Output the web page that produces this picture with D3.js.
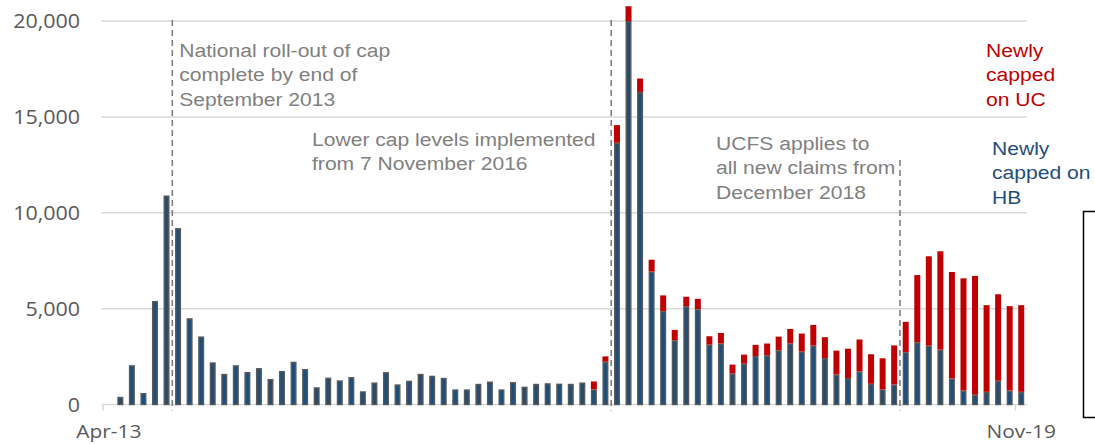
<!DOCTYPE html>
<html><head><meta charset="utf-8">
<script src="https://cdn.jsdelivr.net/npm/d3@7"></script>
<style>
html,body{margin:0;padding:0;background:#fff;}
svg{display:block;}
</style></head>
<body>
<svg id="chart" width="1095" height="444"></svg>
<script>
const months = ("Apr-13 May-13 Jun-13 Jul-13 Aug-13 Sep-13 Oct-13 Nov-13 Dec-13 " +
 "Jan-14 Feb-14 Mar-14 Apr-14 May-14 Jun-14 Jul-14 Aug-14 Sep-14 Oct-14 Nov-14 Dec-14 " +
 "Jan-15 Feb-15 Mar-15 Apr-15 May-15 Jun-15 Jul-15 Aug-15 Sep-15 Oct-15 Nov-15 Dec-15 " +
 "Jan-16 Feb-16 Mar-16 Apr-16 May-16 Jun-16 Jul-16 Aug-16 Sep-16 Oct-16 Nov-16 Dec-16 " +
 "Jan-17 Feb-17 Mar-17 Apr-17 May-17 Jun-17 Jul-17 Aug-17 Sep-17 Oct-17 Nov-17 Dec-17 " +
 "Jan-18 Feb-18 Mar-18 Apr-18 May-18 Jun-18 Jul-18 Aug-18 Sep-18 Oct-18 Nov-18 Dec-18 " +
 "Jan-19 Feb-19 Mar-19 Apr-19 May-19 Jun-19 Jul-19 Aug-19 Sep-19 Oct-19 Nov-19").split(" ");

const newlyCappedHB = [0, 400, 2050, 600, 5400, 10900, 9200, 4500, 3550, 2200, 1600, 2050, 1700, 1900,
 1330, 1750, 2230, 1850, 900, 1400, 1260, 1430, 690, 1150, 1690, 1050, 1240, 1600, 1500, 1390, 790, 790,
 1080, 1200, 790, 1170, 930, 1080, 1110, 1090, 1080, 1150, 790, 2230, 13650, 20000, 16300, 6930, 4870,
 3350, 5130, 4970, 3120, 3180, 1610, 2130, 2530, 2570, 2830, 3190, 2760, 3070, 2420, 1570, 1380, 1730,
 1080, 790, 1050, 2730, 3250, 3070, 2860, 1360, 730, 510, 660, 1240, 730, 660];

const newlyCappedUC = [0, 0, 0, 0, 0, 0, 0, 0, 0, 0, 0, 0, 0, 0, 0, 0, 0, 0, 0, 0, 0, 0, 0, 0, 0, 0, 0, 0,
 0, 0, 0, 0, 0, 0, 0, 0, 0, 0, 0, 0, 0, 0, 410, 280, 920, 770, 700, 620, 820, 540, 490, 540, 440, 550,
 470, 470, 580, 610, 710, 750, 940, 1080, 1090, 1240, 1530, 1660, 1540, 1620, 2030, 1580, 3500, 4660,
 5130, 5550, 5850, 6190, 4520, 4510, 4400, 4520];

const yTicks = [0, 5000, 10000, 15000, 20000];
const xTickLabels = ["Apr-13", "Nov-19"];

const annotations = [
  {after: "Sep-13", lines: ["National roll-out of cap", "complete by end of", "September 2013"], lineTop: 20},
  {after: "Nov-16", lines: ["Lower cap levels implemented", "from 7 November 2016"], lineTop: 20},
  {after: "Dec-18", lines: ["UCFS applies to", "all new claims from", "December 2018"], lineTop: 160}
];

const C = {blue: "#1f4e79", outline: "#595959", red: "#c00000", grid: "#d9d9d9", axisText: "#595959", note: "#808080"};

(function () {
const svg = d3.select("#chart");
const pLeft = 103, pRight = 1027, pBottom = 404.5, pTop = 21;
const SX = 1.11; // horizontal stretch of the original rendering

const x = d3.scaleBand().domain(months).range([pLeft, pRight]).paddingInner(0).paddingOuter(0);
const y = d3.scaleLinear().domain([0, 20000]).range([pBottom, pTop]);
const step = x.step();
const barW = 6;

// gridlines
svg.append("g").selectAll("line").data(yTicks).join("line")
  .attr("x1", pLeft - 1.5).attr("x2", pRight)
  .attr("y1", d => y(d)).attr("y2", d => y(d))
  .attr("stroke", C.grid).attr("stroke-width", 1.5);

// y labels
svg.append("g").selectAll("text").data(yTicks).join("text")
  .attr("transform", d => `translate(80,${y(d) + 7}) scale(1.1,1)`)
  .attr("text-anchor", "end")
  .attr("font-family", "'Open Sans', sans-serif").attr("font-size", 19.5)
  .attr("fill", C.axisText)
  .text(d => d3.format(",")(d));

// x tick marks & labels
svg.append("g").selectAll("line").data(xTickLabels).join("line")
  .attr("x1", d => x(d)).attr("x2", d => x(d))
  .attr("y1", pBottom).attr("y2", pBottom + 6)
  .attr("stroke", C.grid).attr("stroke-width", 1.5);
svg.append("g").selectAll("text").data(xTickLabels).join("text")
  .attr("transform", d => `translate(${x(d) + step / 2},437.5) scale(1.1,1)`)
  .attr("text-anchor", "middle")
  .attr("font-family", "'Open Sans', sans-serif").attr("font-size", 19)
  .attr("fill", C.axisText)
  .text(d => d);

const rows = months.map((m, i) => ({m, hb: newlyCappedHB[i], uc: newlyCappedUC[i]}));

// HB bars
svg.append("g").selectAll("rect").data(rows.filter(d => d.hb > 0)).join("rect")
  .attr("x", d => x(d.m) + step / 2 - barW / 2 + 0.7)
  .attr("width", barW - 1.4)
  .attr("y", d => y(d.hb) + 0.7)
  .attr("height", d => Math.max(0, y(0) - y(d.hb) - 0.7))
  .attr("fill", C.blue).attr("stroke", C.outline).attr("stroke-width", 1.4);

// UC bars stacked
svg.append("g").selectAll("rect").data(rows.filter(d => d.uc > 0)).join("rect")
  .attr("x", d => x(d.m) + step / 2 - barW / 2)
  .attr("width", barW)
  .attr("y", d => y(d.hb + d.uc))
  .attr("height", d => y(d.hb) - y(d.hb + d.uc))
  .attr("fill", C.red);

// dashed event lines
annotations.forEach(a => {
  const xi = months.indexOf(a.after);
  const lx = x(months[xi + 1]);
  svg.append("line")
    .attr("x1", lx).attr("x2", lx).attr("y1", a.lineTop).attr("y2", pBottom + 6)
    .attr("stroke", "#7f7f7f").attr("stroke-width", 1.6).attr("stroke-dasharray", "6,4");
});

function textBlock(xp, baseline, lines, color, lh) {
  const t = svg.append("text")
    .attr("transform", `translate(${xp},${baseline}) scale(${SX},1)`)
    .attr("font-family", "'Liberation Sans', Arial, sans-serif").attr("font-size", 19)
    .attr("fill", color);
  lines.forEach((l, i) => t.append("tspan").attr("x", 0).attr("y", i * lh).text(l));
}
textBlock(x(months[months.indexOf("Sep-13") + 1]) + 7, 57, annotations[0].lines, C.note, 24.5);
textBlock(312, 146, annotations[1].lines, C.note, 24.5);
textBlock(716, 150, annotations[2].lines, C.note, 24.5);

// series labels
textBlock(986, 57, ["Newly", "capped", "on UC"], C.red, 24.5);
textBlock(992, 155, ["Newly", "capped on", "HB"], C.blue, 24.5);

// partially visible legend box
svg.append("rect").attr("x", 1083.5).attr("y", 211.5).attr("width", 30).attr("height", 206)
  .attr("fill", "none").attr("stroke", "#000").attr("stroke-width", 1.5);
})();
</script>
</body></html>
